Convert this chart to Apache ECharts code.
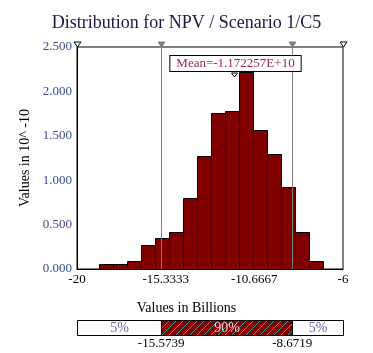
<!DOCTYPE html>
<html><head><meta charset="utf-8">
<script src="https://cdn.jsdelivr.net/npm/echarts@6/dist/echarts.min.js"></script>
<style>html,body{margin:0;padding:0;background:#fff}#c{width:373px;height:353px}</style>
</head><body><div id="c"></div>
<script>
// ---- data ----
const binEdges = [-18.83, -18.095, -17.36, -16.625, -15.89, -15.155, -14.42, -13.685, -12.95, -12.215, -11.48, -10.745, -10.01, -9.275, -8.54, -7.805, -7.07];
const density = [0.056, 0.056, 0.094, 0.273, 0.352, 0.419, 0.80, 1.273, 1.756, 1.779, 2.22, 1.566, 1.296, 0.925, 0.419, 0.094];
const xTickValues = [-20, -15.3333, -10.6667, -6];
const xTickLabels = ['-20', '-15.3333', '-10.6667', '-6'];
const yTickValues = [0, 0.5, 1, 1.5, 2, 2.5];
const percentiles = [-15.5739, -8.6719];
const percentileLabels = ['-15.5739', '-8.6719'];
const bandLabels = ['5%', '90%', '5%'];
const meanValue = -11.72257;
const meanLabel = 'Mean=-1.172257E+10';
const titleText = 'Distribution for NPV / Scenario 1/C5';
const yName = 'Values in 10^ -10';
const xName = 'Values in Billions';

const FONT = '"Liberation Serif", "Times New Roman", serif';
const histData = density.map((d, i) => [binEdges[i], binEdges[i + 1], d]);

// hatch pattern
const pc = document.createElement('canvas');
pc.width = 7; pc.height = 7;
const g = pc.getContext('2d');
g.fillStyle = '#800000'; g.fillRect(0, 0, 7, 7);
g.strokeStyle = '#3a9aa0'; g.lineWidth = 1;
g.beginPath(); g.moveTo(0, 7); g.lineTo(7, 0); g.stroke();

const xMin = xTickValues[0], xMax = xTickValues[xTickValues.length - 1];
const bands = [[xMin, percentiles[0], bandLabels[0], 0], [percentiles[0], percentiles[1], bandLabels[1], 1], [percentiles[1], xMax, bandLabels[2], 0]];

function fmtX(v) {
  let best = 0;
  xTickValues.forEach((t, i) => { if (Math.abs(t - v) < Math.abs(xTickValues[best] - v)) best = i; });
  return xTickLabels[best];
}
function fmtP(v) {
  let best = 0;
  percentiles.forEach((t, i) => { if (Math.abs(t - v) < Math.abs(percentiles[best] - v)) best = i; });
  return percentileLabels[best];
}

const chart = echarts.init(document.getElementById('c'), null, { renderer: 'canvas' });
chart.setOption({
  animation: false,
  backgroundColor: '#fff',
  title: [
    { text: titleText, left: 'center', top: 9, textStyle: { fontFamily: FONT, fontSize: 18, fontWeight: 'normal', color: '#1a1a40' } },
    { text: xName, left: 'center', top: 296, textStyle: { fontFamily: FONT, fontSize: 14, fontWeight: 'normal', color: '#000' } }
  ],
  grid: [
    { left: 77, right: 30, top: 47, bottom: 84, show: true, borderColor: '#000', borderWidth: 1, backgroundColor: 'transparent' },
    { left: 77, right: 30, top: 320, height: 15, show: false }
  ],
  xAxis: [
    { type: 'value', gridIndex: 0, min: xMin, max: xMax,
      axisLine: { show: true, onZero: false, lineStyle: { color: '#000' } }, axisTick: { show: false }, splitLine: { show: false },
      axisLabel: { customValues: xTickValues, formatter: fmtX, margin: 4, fontFamily: FONT, fontSize: 13, color: '#000' } },
    { type: 'value', gridIndex: 1, min: xMin, max: xMax,
      axisLine: { show: false }, axisTick: { show: false }, splitLine: { show: false },
      axisLabel: { customValues: percentiles, formatter: fmtP, margin: 2, fontFamily: FONT, fontSize: 13, color: '#000' } }
  ],
  yAxis: [
    { type: 'value', gridIndex: 0, min: 0, max: 2.5, interval: 0.5,
      name: yName, nameLocation: 'middle', nameGap: 43, nameTextStyle: { fontFamily: FONT, fontSize: 14, color: '#000' },
      axisLine: { show: true, lineStyle: { color: '#000' } }, axisTick: { show: false }, splitLine: { show: false },
      axisLabel: { formatter: v => v.toFixed(3), margin: 5, fontFamily: FONT, fontSize: 13, color: '#3a4a8a' } },
    { type: 'value', gridIndex: 1, min: 0, max: 1, show: false }
  ],
  series: [
    { type: 'custom', xAxisIndex: 0, yAxisIndex: 0, data: histData, encode: { x: [0, 1], y: 2 }, z: 2,
      renderItem: (p, api) => {
        const a = api.coord([api.value(0), 0]);
        const b = api.coord([api.value(1), api.value(2)]);
        return { type: 'rect', shape: { x: Math.round(a[0]) + 0.5, y: Math.round(b[1]) + 0.5, width: Math.round(b[0] - a[0]), height: Math.round(a[1] - b[1]) },
          style: { fill: '#800000', stroke: '#000', lineWidth: 1 } };
      } },
    { type: 'custom', xAxisIndex: 0, yAxisIndex: 0, data: percentiles.map(v => [v]), encode: { x: 0 }, z: 3,
      renderItem: (p, api) => {
        const a = api.coord([api.value(0), 0]);
        const b = api.coord([api.value(0), 2.5]);
        const x = Math.round(a[0]) + 0.5;
        return { type: 'group', children: [
          { type: 'line', shape: { x1: x, y1: a[1], x2: x, y2: b[1] }, style: { stroke: '#808080', lineWidth: 1 } },
          { type: 'polygon', shape: { points: [[x - 3.5, b[1] - 5], [x + 3.5, b[1] - 5], [x, b[1]]] }, style: { fill: '#808080', stroke: '#808080' } }
        ] };
      } },
    { type: 'custom', xAxisIndex: 0, yAxisIndex: 0, data: [[xMin], [xMax]], encode: { x: 0 }, z: 4,
      renderItem: (p, api) => {
        const b = api.coord([api.value(0), 2.5]);
        const x = Math.round(b[0]) + 0.5;
        return { type: 'polygon', shape: { points: [[x - 3.5, b[1] - 5], [x + 3.5, b[1] - 5], [x, b[1]]] }, style: { fill: '#fff', stroke: '#000', lineWidth: 1 } };
      } },
    { type: 'custom', xAxisIndex: 0, yAxisIndex: 0, data: [[meanValue]], encode: { x: 0 }, z: 5,
      renderItem: (p, api) => {
        const b = api.coord([api.value(0), 2.5]);
        const x = Math.round(b[0]) + 0.5;
        const top = b[1] + 9;
        return { type: 'group', children: [
          { type: 'text', x: x + 1, y: top, style: { text: meanLabel, align: 'center', verticalAlign: 'top', font: '13px ' + FONT, fill: '#9a2848',
              backgroundColor: '#fff', borderColor: '#000', borderWidth: 1, padding: [1, 6, 1, 6] } },
          { type: 'polygon', shape: { points: [[x - 3, top + 17], [x + 3, top + 17], [x, top + 21]] }, style: { fill: '#fff', stroke: '#000', lineWidth: 1 } }
        ] };
      } },
    { type: 'custom', xAxisIndex: 1, yAxisIndex: 1, data: bands, encode: { x: [0, 1] }, z: 2,
      renderItem: (p, api) => {
        const a = api.coord([api.value(0), 0]);
        const b = api.coord([api.value(1), 1]);
        const hatched = api.value(3) === 1;
        const x0 = Math.round(a[0]) + 0.5, x1 = Math.round(b[0]) + 0.5;
        return { type: 'group', children: [
          { type: 'rect', shape: { x: x0, y: Math.round(b[1]) + 0.5, width: x1 - x0, height: Math.round(a[1] - b[1]) },
            style: { fill: hatched ? { image: pc, repeat: 'repeat' } : '#fff', stroke: '#000', lineWidth: 1 } },
          { type: 'text', x: (x0 + x1) / 2, y: (a[1] + b[1]) / 2 + 1, style: { text: bands[p.dataIndex][2], align: 'center', verticalAlign: 'middle',
              font: '14px ' + FONT, fill: hatched ? '#ecd0dc' : '#5a6aa0' } }
        ] };
      } }
  ]
});
</script></body></html>
